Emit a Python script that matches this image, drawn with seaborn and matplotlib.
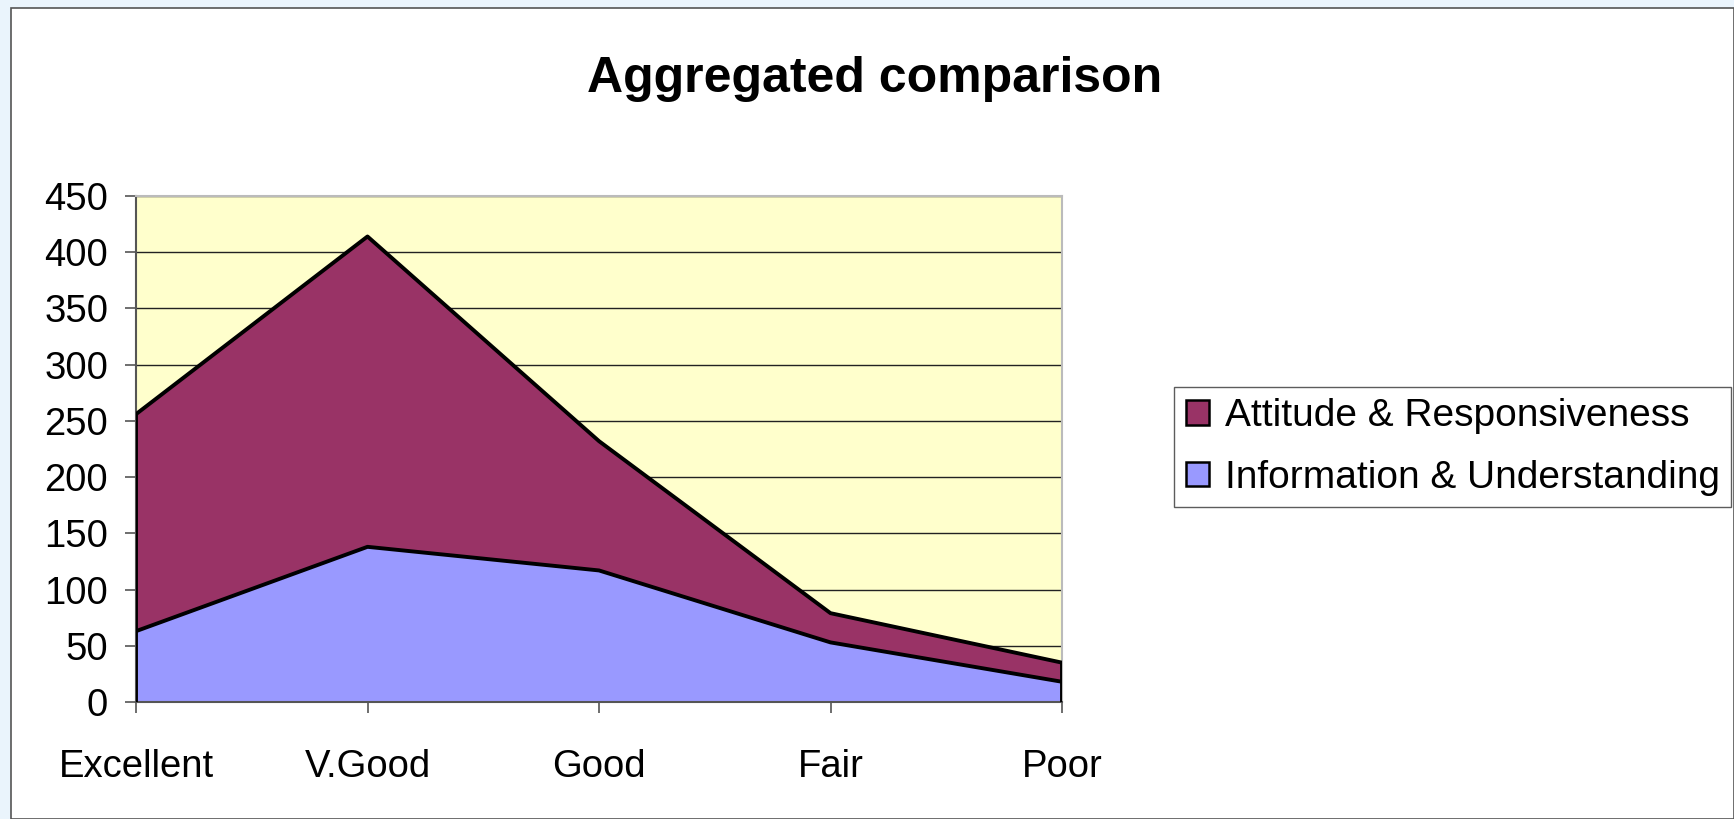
import numpy as np
import pandas as pd
import seaborn as sns
import matplotlib.pyplot as plt
from matplotlib.patches import Rectangle, Patch

# data
categories = ['Excellent', 'V.Good', 'Good', 'Fair', 'Poor']
info_understanding = [63, 138, 117, 53, 18]
attitude_responsiveness = [193, 276, 115, 26, 17]
y_ticks = [0, 50, 100, 150, 200, 250, 300, 350, 400, 450]

df = pd.DataFrame({
    'category': categories,
    'pos': np.arange(len(categories)),
    'info': info_understanding,
    'attitude': attitude_responsiveness,
})
df['total'] = df['info'] + df['attitude']

sns.set_style('white')
plt.rcParams['font.family'] = ['Liberation Sans', 'DejaVu Sans']
plt.rcParams['text.color'] = 'black'
plt.rcParams['xtick.color'] = 'black'
plt.rcParams['ytick.color'] = 'black'

W, H = 1734, 819
fig = plt.figure(figsize=(W / 100, H / 100), dpi=100)
fig.patch.set_facecolor('#EAF4FC')

# white chart panel with a thin frame, like the office chart export
fig.patches.append(Rectangle((11 / W, 0), 1 - 11 / W, 1 - 8 / H, transform=fig.transFigure,
                             facecolor='white', edgecolor='#555555', linewidth=1.2, zorder=-5))

ax = fig.add_axes([136 / W, 1 - 702 / H, (1062 - 136) / W, (702 - 196) / H])
ax.set_zorder(2)
ax.set_facecolor('#FFFFCC')

c_info = '#9999FF'
c_att = '#993366'

ax.fill_between(df['pos'], 0, df['info'], color=c_info, zorder=2, linewidth=0)
ax.fill_between(df['pos'], df['info'], df['total'], color=c_att, zorder=2, linewidth=0)
sns.lineplot(data=df, x='pos', y='info', color='black', linewidth=2.8, ax=ax, zorder=3)
sns.lineplot(data=df, x='pos', y='total', color='black', linewidth=2.8, ax=ax, zorder=3)
ax.vlines([0, len(categories) - 1], 0, [df['total'].iloc[0], df['total'].iloc[-1]],
          color='black', linewidth=2.8, zorder=3)

ax.set_xlim(0, len(categories) - 1)
ax.set_ylim(0, 450)
ax.set_yticks(y_ticks)
ax.set_xticks(df['pos'])
ax.set_xticklabels(categories)
ax.set_xlabel('')
ax.set_ylabel('')

ax.yaxis.grid(True, color='#222222', linewidth=1.0, zorder=1)
ax.xaxis.grid(False)
ax.set_axisbelow(True)

for side in ['top', 'right']:
    ax.spines[side].set_color('#BBBBBB')
    ax.spines[side].set_linewidth(1.5)
for side in ['left', 'bottom']:
    ax.spines[side].set_color('#555555')
    ax.spines[side].set_linewidth(1.5)

ax.tick_params(axis='y', which='major', direction='out', length=8, width=1.2,
               color='#555555', labelcolor='black', labelsize=27.5, pad=12, left=True)
ax.tick_params(axis='x', which='major', direction='out', length=8, width=1.2,
               color='#555555', labelcolor='black', labelsize=27.5, pad=26, bottom=True)

fig.text(875 / W, 1 - 92 / H, 'Aggregated comparison', ha='center', va='baseline',
         fontsize=36, fontweight='bold', color='black')

handles = [Patch(facecolor=c_att, edgecolor='black', linewidth=1.8, label='Attitude & Responsiveness'),
           Patch(facecolor=c_info, edgecolor='black', linewidth=1.8, label='Information & Understanding')]
leg = fig.legend(handles=handles, loc='center left', bbox_to_anchor=(1174 / W, 1 - 447 / H),
                 fontsize=28, frameon=True, fancybox=False, edgecolor='#333333',
                 handlelength=0.6, handleheight=0.6, handletextpad=0.4,
                 labelspacing=0.65, borderpad=0.3, borderaxespad=0)
leg.get_frame().set_linewidth(1.0)
for t in leg.get_texts():
    t.set_color('black')

fig.savefig('out.png', dpi=100, facecolor=fig.get_facecolor())
